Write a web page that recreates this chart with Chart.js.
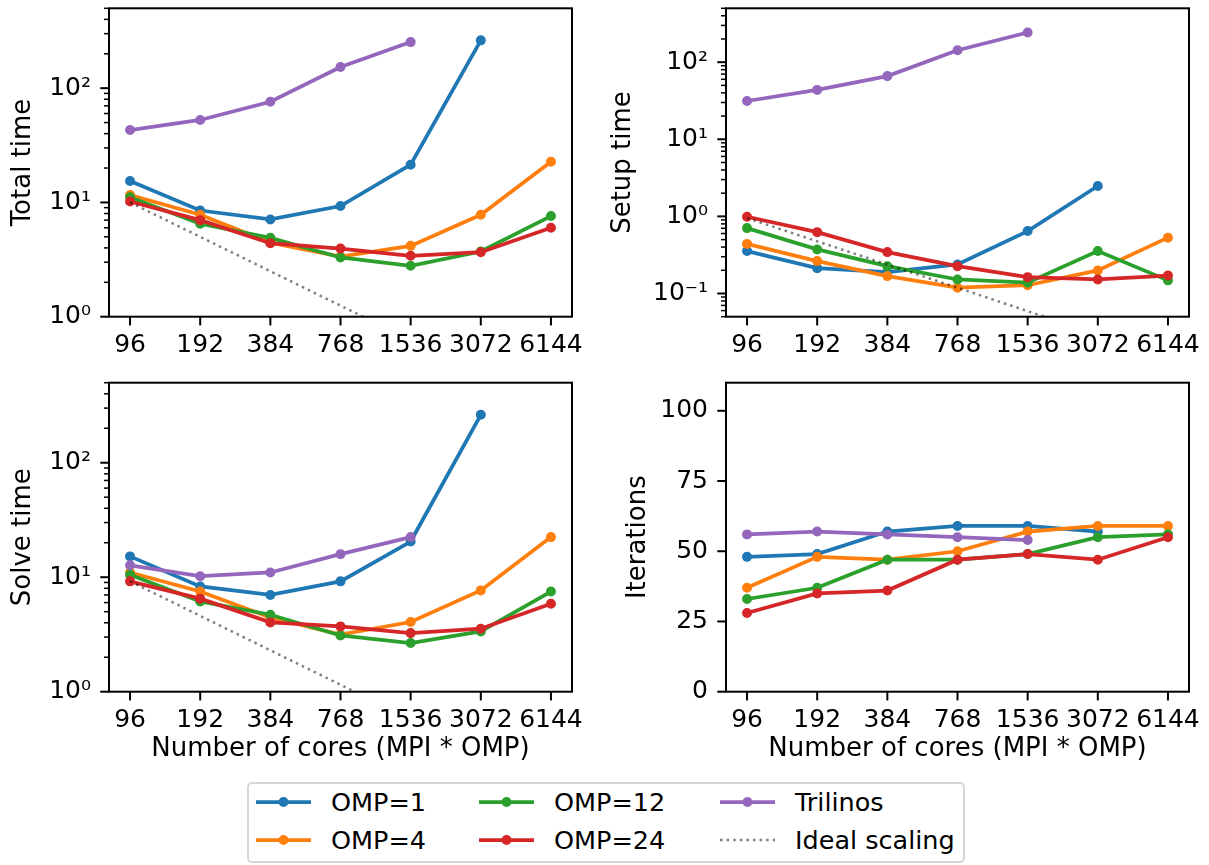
<!DOCTYPE html>
<html>
<head>
<meta charset="utf-8">
<script src="https://cdn.jsdelivr.net/npm/chart.js@4.4.0/dist/chart.umd.min.js"></script>
<style>
  body { margin: 0; background: #fff; font-family: 'DejaVu Sans', sans-serif; }
  #page { position: relative; width: 1209px; height: 865px; overflow: hidden; }
  canvas { position: absolute; }
  .legendBox { position: absolute; left: 247px; top: 782px; width: 718px; height: 81px;
    box-sizing: border-box; border: 2px solid #d6d6d6; border-radius: 5px; }
  .legItem { position: absolute; font-size: 25.5px; line-height: 30px; color: #000; white-space: nowrap; }
  .legSample { position: absolute; }
</style>
</head>
<body>
<div id="page">
  <canvas id="totalChart" width="600" height="370" style="left:0;top:0"></canvas>
  <canvas id="setupChart" width="609" height="370" style="left:600px;top:0"></canvas>
  <canvas id="solveChart" width="600" height="410" style="left:0;top:370px"></canvas>
  <canvas id="iterChart" width="609" height="410" style="left:600px;top:370px"></canvas>
  <div class="legendBox"></div>
  <div id="legend"></div>
</div>
<script>
// x categories (number of cores)
const cores = [96, 192, 384, 768, 1536, 3072, 6144];
const seriesNames = ['OMP=1', 'OMP=4', 'OMP=12', 'OMP=24', 'Trilinos'];
const seriesColors = ['#1f77b4', '#ff7f0e', '#2ca02c', '#d62728', '#9467bd'];
const idealName = 'Ideal scaling';

// Total time
const totalOmp1 = [15.4, 8.5, 7.1, 9.3, 21.4, 262, null];
const totalOmp4 = [11.6, 7.8, 4.45, 3.36, 4.17, 7.8, 22.7];
const totalOmp12 = [11.1, 6.5, 4.9, 3.3, 2.79, 3.72, 7.6];
const totalOmp24 = [10.2, 7.0, 4.4, 3.95, 3.41, 3.67, 6.0];
const totalTrilinos = [43, 52.7, 76, 153, 253, null, null];
const totalIdeal = [10, 5, 2.5, 1.25, 0.625, 0.3125, 0.156];

// Setup time
const setupOmp1 = [0.355, 0.213, 0.189, 0.238, 0.645, 2.48, null];
const setupOmp4 = [0.44, 0.263, 0.168, 0.119, 0.128, 0.199, 0.53];
const setupOmp12 = [0.705, 0.373, 0.226, 0.152, 0.138, 0.355, 0.148];
const setupOmp24 = [0.99, 0.625, 0.344, 0.226, 0.163, 0.152, 0.171];
const setupTrilinos = [31.4, 43.7, 66, 143, 243, null, null];
const setupIdeal = [0.95, 0.475, 0.2375, 0.119, 0.059, 0.0297, 0.0148];

// Solve time
const solveOmp1 = [15.2, 8.3, 7.0, 9.2, 20.5, 262, null];
const solveOmp4 = [11.0, 7.5, 4.45, 3.15, 4.06, 7.67, 22.4];
const solveOmp12 = [10.5, 6.15, 4.7, 3.1, 2.66, 3.36, 7.5];
const solveOmp24 = [9.2, 6.5, 4.03, 3.72, 3.25, 3.55, 5.87];
const solveTrilinos = [12.7, 10.2, 11.0, 15.9, 22.4, null, null];
const solveIdeal = [9.2, 4.6, 2.3, 1.15, 0.575, 0.2875, 0.144];

// Iterations
const iterOmp1 = [48, 49, 57, 59, 59, 57, null];
const iterOmp4 = [37, 48, 47, 50, 57, 59, 59];
const iterOmp12 = [33, 37, 47, 47, 49, 55, 56];
const iterOmp24 = [28, 35, 36, 47, 49, 47, 55];
const iterTrilinos = [56, 57, 56, 55, 54, null, null];
const iterTicks = [0, 25, 50, 75, 100];

Chart.defaults.font.family = "'DejaVu Sans'";
Chart.defaults.font.size = 25;
Chart.defaults.color = '#000';

const supDigits = { '-': '\u207B', '0': '\u2070', '1': '\u00B9', '2': '\u00B2', '3': '\u00B3' };

function pow10Label(e) {
  return '10' + String(e).split('').map(ch => supDigits[ch]).join('');
}

// major + minor ticks for a log axis, like matplotlib
function logTicks(min, max) {
  const out = [];
  for (let e = Math.floor(Math.log10(min)); e <= Math.ceil(Math.log10(max)); e++) {
    for (let m = 1; m <= 9; m++) {
      const v = m * Math.pow(10, e);
      if (v >= min * 0.999 && v <= max * 1.001) {
        out.push({ value: v, big: m === 1, lab: m === 1 ? pow10Label(e) : '' });
      }
    }
  }
  return out;
}

// draw tick marks and the axes frame
const tickMarks = {
  id: 'tickMarks',
  afterDraw(chart) {
    const { ctx, chartArea: a, scales } = chart;
    ctx.save();
    ctx.strokeStyle = '#000';
    scales.x.ticks.forEach(t => {
      const px = scales.x.getPixelForValue(t.value);
      ctx.lineWidth = 2;
      ctx.beginPath();
      ctx.moveTo(px, a.bottom);
      ctx.lineTo(px, a.bottom + 8.75);
      ctx.stroke();
    });
    scales.y.ticks.forEach(t => {
      const py = scales.y.getPixelForValue(t.value);
      ctx.lineWidth = t.big ? 2 : 1.5;
      ctx.beginPath();
      ctx.moveTo(a.left, py);
      ctx.lineTo(a.left - (t.big ? 8.75 : 5), py);
      ctx.stroke();
    });
    ctx.lineWidth = 2;
    ctx.strokeRect(a.left, a.top, a.right - a.left, a.bottom - a.top);
    ctx.restore();
  }
};

function lineSet(label, ys, color, order) {
  return {
    label: label,
    data: cores.map((c, i) => ({ x: c, y: ys[i] })),
    borderColor: color,
    backgroundColor: color,
    borderWidth: 3.75,
    pointRadius: 3.75,
    pointBorderWidth: 2.5,
    pointHoverRadius: 3.75,
    tension: 0,
    order: order
  };
}

function idealSet(ys) {
  return {
    label: idealName,
    data: cores.map((c, i) => ({ x: c, y: ys[i] })),
    borderColor: 'rgba(0,0,0,0.5)',
    borderWidth: 2.5,
    borderDash: [2.5, 4.1],
    pointRadius: 0,
    tension: 0,
    order: 0
  };
}

function makePanel(id, p) {
  const datasets = p.series.map((ys, i) => lineSet(seriesNames[i], ys, seriesColors[i], 5 - i));
  if (p.ideal) datasets.push(idealSet(p.ideal));

  const yTicks = p.log ? logTicks(p.yMin, p.yMax) : p.yTicks.map(v => ({ value: v, big: true, lab: String(v) }));

  return new Chart(document.getElementById(id), {
    type: 'line',
    data: { datasets: datasets },
    plugins: [tickMarks],
    options: {
      responsive: false,
      animation: false,
      events: [],
      layout: { padding: { left: 0, right: p.padRight, top: p.padTop, bottom: 0 } },
      plugins: { legend: { display: false }, tooltip: { enabled: false } },
      scales: {
        x: {
          type: 'logarithmic',
          position: 'bottom',
          bounds: 'data',
          min: cores[0] / Math.pow(2, 0.3),
          max: cores[cores.length - 1] * Math.pow(2, 0.3),
          afterBuildTicks: s => { s.ticks = cores.map(c => ({ value: c, big: true })); },
          afterFit: s => {
            s.height = p.xHeight;
            s.paddingLeft = 0; s.paddingRight = 0; s.paddingTop = 0; s.paddingBottom = 0;
          },
          grid: { display: false, drawTicks: false, tickLength: 0 },
          border: { display: false },
          ticks: {
            autoSkip: false, maxRotation: 0, minRotation: 0, padding: 14, color: '#000',
            callback: v => String(v)
          },
          title: {
            display: !!p.xLabel, text: p.xLabel || '', color: '#000',
            font: { size: 26 },
            padding: { top: 0, bottom: 15 }
          }
        },
        y: {
          type: p.log ? 'logarithmic' : 'linear',
          position: 'left',
          bounds: 'data',
          min: p.yMin,
          max: p.yMax,
          afterBuildTicks: s => { s.ticks = yTicks.map(t => Object.assign({}, t)); },
          afterFit: s => {
            s.width = p.yWidth;
            s.paddingLeft = 0; s.paddingRight = 0; s.paddingTop = 0; s.paddingBottom = 0;
          },
          grid: { display: false, drawTicks: false, tickLength: 0 },
          border: { display: false },
          ticks: {
            autoSkip: false, padding: 18, color: '#000',
            callback: (v, i, ticks) => ticks[i].lab
          },
          title: {
            display: true, text: p.yLabel, color: '#000',
            font: { size: 26 },
            padding: { top: p.yTitlePad, bottom: 0 }
          }
        }
      }
    }
  });
}

makePanel('totalChart', {
  series: [totalOmp1, totalOmp4, totalOmp12, totalOmp24, totalTrilinos],
  ideal: totalIdeal, yLabel: 'Total time', log: true, yMin: 1, yMax: 500,
  yWidth: 109, padRight: 28, padTop: 8.3, xHeight: 53.3, yTitlePad: 7.5
});

makePanel('setupChart', {
  series: [setupOmp1, setupOmp4, setupOmp12, setupOmp24, setupTrilinos],
  ideal: setupIdeal, yLabel: 'Setup time', log: true, yMin: 0.05, yMax: 500,
  yWidth: 126, padRight: 20, padTop: 8.3, xHeight: 53.3, yTitlePad: 7.5
});

makePanel('solveChart', {
  series: [solveOmp1, solveOmp4, solveOmp12, solveOmp24, solveTrilinos],
  ideal: solveIdeal, yLabel: 'Solve time', log: true, yMin: 1, yMax: 500,
  yWidth: 109, padRight: 28, padTop: 12.7, xHeight: 88.3, yTitlePad: 7.5,
  xLabel: 'Number of cores (MPI * OMP)'
});

makePanel('iterChart', {
  series: [iterOmp1, iterOmp4, iterOmp12, iterOmp24, iterTrilinos],
  ideal: null, yLabel: 'Iterations', log: false, yMin: 0, yMax: 110, yTicks: iterTicks,
  yWidth: 126, padRight: 20, padTop: 12.7, xHeight: 88.3, yTitlePad: 22.5,
  xLabel: 'Number of cores (MPI * OMP)'
});

// legend (3 columns x 2 rows, column-major like matplotlib)
const legendEntries = seriesNames.map((n, i) => ({ name: n, color: seriesColors[i], dotted: false }));
legendEntries.push({ name: idealName, color: 'rgba(0,0,0,0.5)', dotted: true });
const legendColX = [256, 479, 720];
const legendRowY = [802, 840];
const legendEl = document.getElementById('legend');
legendEntries.forEach((e, i) => {
  const col = Math.floor(i / 2), row = i % 2;
  const x = legendColX[col], y = legendRowY[row];
  const svg = document.createElementNS('http://www.w3.org/2000/svg', 'svg');
  svg.setAttribute('width', 56);
  svg.setAttribute('height', 14);
  svg.setAttribute('class', 'legSample');
  svg.style.left = x + 'px';
  svg.style.top = (y - 7) + 'px';
  if (e.dotted) {
    svg.innerHTML = '<line x1="0" y1="7" x2="55" y2="7" stroke="' + e.color +
      '" stroke-width="2.5" stroke-dasharray="2.5 4.1"/>';
  } else {
    svg.innerHTML = '<line x1="0" y1="7" x2="55" y2="7" stroke="' + e.color +
      '" stroke-width="3.75"/><circle cx="27.5" cy="7" r="3.75" fill="' + e.color +
      '" stroke="' + e.color + '" stroke-width="2.5"/>';
  }
  legendEl.appendChild(svg);
  const span = document.createElement('span');
  span.className = 'legItem';
  span.textContent = e.name;
  span.style.left = (x + 75) + 'px';
  span.style.top = (y - 15) + 'px';
  legendEl.appendChild(span);
});
</script>
</body>
</html>
